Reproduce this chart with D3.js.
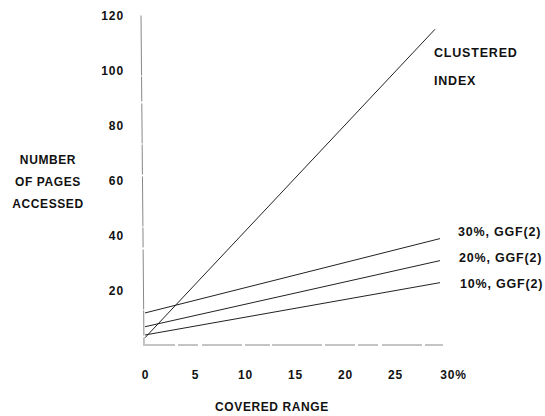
<!DOCTYPE html>
<html>
<head>
<meta charset="utf-8">
<script src="https://cdn.jsdelivr.net/npm/d3@7"></script>
<style>
  html, body { margin: 0; padding: 0; background: #fff; }
  svg text { font-family: "Liberation Sans", Arial, Helvetica, sans-serif; font-weight: bold; fill: #111; }
</style>
</head>
<body>
<svg id="chart" width="545" height="416"></svg>
<script>
// ---- data ----
const xTicks = [0, 5, 10, 15, 20, 25, 30];
const yTicks = [20, 40, 60, 80, 100, 120];
const seriesNames = ["CLUSTERED INDEX", "30%, GGF(2)", "20%, GGF(2)", "10%, GGF(2)"];
const clusteredX = [0, 29];
const clusteredY = [3, 115];
const ggfX = [0, 29.5];
const ggf30Y = [12, 39];
const ggf20Y = [7, 31];
const ggf10Y = [4, 23];
const yTitle = ["NUMBER", "OF PAGES", "ACCESSED"];
const xTitle = "COVERED RANGE";

const svg = d3.select("#chart");
const x = d3.scaleLinear().domain([0, 30]).range([145, 445]);
const y = d3.scaleLinear().domain([0, 120]).range([346, 15.5]);

// axis lines (faint, slightly broken scanned look)
svg.append("line")
  .attr("x1", 141).attr("x2", 144).attr("y1", y(120)).attr("y2", y(0))
  .attr("stroke", "#888").attr("stroke-width", 1)
  .attr("stroke-dasharray", "60,1,25,2,40,1,30,2,50,1,20,2");
svg.append("line")
  .attr("x1", x(0)).attr("x2", x(29.8)).attr("y1", y(0) - 1).attr("y2", y(0) - 1)
  .attr("stroke", "#888").attr("stroke-width", 1)
  .attr("stroke-dasharray", "30,3,20,4,40,3,25,2,50,3");

// axes
const gx = svg.append("g").attr("transform", `translate(0,${y(0)})`)
  .call(d3.axisBottom(x).tickValues(xTicks).tickSize(0).tickPadding(24)
    .tickFormat(d => d === 30 ? "30%" : d));
gx.select(".domain").remove();
gx.selectAll("text").style("font-size", "12px").style("letter-spacing", "0.9px")
  .attr("dx", d => d === 30 ? "8" : "0");

const gy = svg.append("g").attr("transform", "translate(141,0)")
  .call(d3.axisLeft(y).tickValues(yTicks).tickSize(0).tickPadding(17));
gy.select(".domain").remove();
gy.selectAll("text").style("font-size", "12px").style("letter-spacing", "0.9px");

// lines
const line = d3.line().x(d => x(d[0])).y(d => y(d[1]));
const series = [
  { name: seriesNames[0], xs: clusteredX, ys: clusteredY },
  { name: seriesNames[1], xs: ggfX, ys: ggf30Y },
  { name: seriesNames[2], xs: ggfX, ys: ggf20Y },
  { name: seriesNames[3], xs: ggfX, ys: ggf10Y }
];
series.forEach(s => {
  svg.append("path")
    .datum(s.xs.map((v, i) => [v, s.ys[i]]))
    .attr("d", line)
    .attr("fill", "none")
    .attr("stroke", "#222")
    .attr("stroke-width", 1);
});

// series labels
const lab = (t, lx, ly) => svg.append("text").attr("x", lx).attr("y", ly).text(t)
  .style("font-size", "12.5px").style("letter-spacing", "0.8px");
const cw = seriesNames[0].split(" ");
lab(cw[0], 434, 57);
lab(cw[1], 434, 85);
lab(seriesNames[1], 458, 236);
lab(seriesNames[2], 459, 262);
lab(seriesNames[3], 460, 288);

// axis titles
yTitle.forEach((t, i) => {
  svg.append("text").attr("x", 48).attr("y", 164 + i * 22).attr("text-anchor", "middle")
    .text(t).style("font-size", "12px").style("letter-spacing", "0.6px");
});
svg.append("text").attr("x", 272).attr("y", 411).attr("text-anchor", "middle")
  .text(xTitle).style("font-size", "12px").style("letter-spacing", "0.6px");
</script>
</body>
</html>
